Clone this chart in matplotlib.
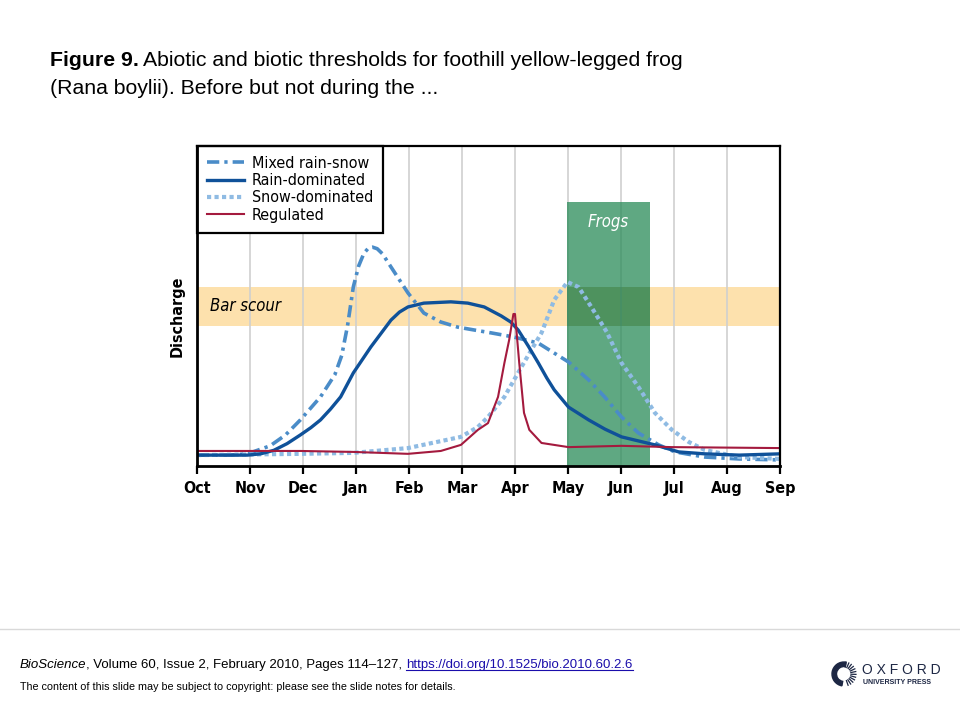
import numpy as np
import matplotlib
matplotlib.use("Agg")
import matplotlib.pyplot as plt
from matplotlib import font_manager
from matplotlib.lines import Line2D
from matplotlib.patches import Rectangle, Wedge

# months from Oct (0) to Sep (11)
months = ["Oct", "Nov", "Dec", "Jan", "Feb", "Mar", "Apr", "May", "Jun", "Jul", "Aug", "Sep"]

# hydrographs (x in months since 1 Oct, y in arbitrary discharge)
mixed_x = [0, 0.63, 0.95, 1.38, 1.67, 1.95, 2.33, 2.60, 2.73, 2.84, 2.95, 3.05, 3.15, 3.24, 3.31,
           3.40, 3.50, 3.66, 3.98, 4.28, 4.60, 4.92, 5.23, 5.55, 5.98, 6.44, 7.01, 7.39, 7.69,
           8.01, 8.33, 8.71, 9.02, 9.58, 10.23, 11.0]
mixed_y = [3.4, 3.4, 3.8, 6.3, 9.7, 14.4, 21.6, 28.5, 34.5, 43.8, 56.0, 62.5, 66.5, 68.2, 68.4,
           67.9, 66.3, 62.2, 54.1, 47.8, 45.0, 43.4, 42.5, 41.6, 40.3, 38.4, 32.5, 26.9, 21.6,
           15.3, 10.3, 6.6, 4.4, 2.8, 2.2, 1.9]

rain_x = [0, 0.95, 1.20, 1.45, 1.70, 1.95, 2.15, 2.33, 2.52, 2.71, 2.95, 3.28, 3.52, 3.66, 3.82,
          3.98, 4.28, 4.79, 5.11, 5.42, 5.74, 5.92, 6.06, 6.25, 6.44, 6.60, 6.74, 7.01, 7.39,
          7.70, 8.01, 8.64, 9.09, 9.58, 10.23, 11.0]
rain_y = [3.4, 3.4, 3.8, 4.9, 7.0, 9.7, 12.0, 14.4, 17.8, 21.6, 29.1, 37.2, 42.5, 45.6, 48.1,
          49.7, 50.9, 51.3, 50.9, 49.7, 46.9, 45.0, 42.5, 37.5, 32.2, 27.5, 23.8, 18.4, 14.4,
          11.5, 9.1, 6.6, 4.4, 3.8, 3.4, 3.8]

snow_x = [0, 1.95, 2.95, 3.98, 4.98, 5.30, 5.49, 5.80, 6.12, 6.31, 6.50, 6.74, 6.99, 7.20, 7.44,
          7.73, 8.01, 8.33, 8.64, 8.96, 9.28, 9.58, 10.23, 11.0]
snow_y = [3.4, 3.8, 4.1, 5.6, 9.1, 12.2, 15.3, 21.6, 30.9, 36.3, 41.6, 51.9, 57.5, 55.9, 49.7,
          41.9, 32.2, 24.7, 16.6, 11.3, 7.5, 5.0, 2.8, 2.2]

reg_x = [0, 1.95, 2.95, 3.98, 4.60, 4.98, 5.30, 5.49, 5.68, 5.80, 5.89, 5.97, 6.00, 6.08, 6.17,
         6.27, 6.50, 7.01, 8.01, 8.96, 11.0]
reg_y = [4.7, 4.7, 4.4, 3.8, 4.7, 6.6, 11.3, 13.4, 21.6, 32.2, 39.4, 47.5, 47.5, 32.2, 16.6,
         11.3, 7.2, 5.9, 6.3, 5.9, 5.6]

# thresholds
bar_scour = (43.8, 55.9)        # discharge band
frogs_months = (6.99, 8.54)     # breeding window
frogs_top = 82.5

narrow = dict(family="DejaVu Sans", stretch="condensed")
arial = "Liberation Sans"

fig = plt.figure(figsize=(9.6, 7.2), dpi=100)
ax = fig.add_axes([197 / 960, 1 - 466 / 720, 583 / 960, 320 / 720])
ax.set_xlim(0, 11)
ax.set_ylim(0, 100)

for m in range(1, 11):
    ax.axvline(m, color="#cfcfcf", lw=1.2, zorder=1)

ax.axhspan(bar_scour[0], bar_scour[1], color="#fde1ad", lw=0, zorder=0.5)
ax.add_patch(Rectangle((frogs_months[0], 0), frogs_months[1] - frogs_months[0], frogs_top,
                       facecolor="#2a8b58", alpha=0.75, lw=0, zorder=2))
ax.add_patch(Rectangle((frogs_months[0], bar_scour[0]), frogs_months[1] - frogs_months[0],
                       bar_scour[1] - bar_scour[0], facecolor="#1f6a35", alpha=0.25, lw=0, zorder=2.1))

ax.text(0.25, 50, "Bar scour", style="italic", fontsize=12, va="center", zorder=3, **narrow)
ax.text(sum(frogs_months) / 2, 76.3, "Frogs", style="italic", fontsize=12,
        color="white", ha="center", va="center", zorder=3, **narrow)

l_mixed, = ax.plot(mixed_x, mixed_y, color="#4a8cc8", lw=2.6, dashes=(3.4, 1.4, 0.9, 1.4),
                   zorder=4, label="Mixed rain-snow")
l_rain, = ax.plot(rain_x, rain_y, color="#0f5199", lw=2.4, zorder=5, label="Rain-dominated")
l_snow, = ax.plot(snow_x, snow_y, color="#8fbbe3", lw=3.0, dashes=(1.0, 0.8), zorder=4,
                  label="Snow-dominated")
l_reg, = ax.plot(reg_x, reg_y, color="#a41a3e", lw=1.5, zorder=6, label="Regulated")

leg = ax.legend(handles=[l_mixed, l_rain, l_snow, l_reg], loc="upper left", borderaxespad=0,
                fancybox=False, edgecolor="black", framealpha=1, handlelength=2.3,
                handletextpad=0.5, labelspacing=0.14, borderpad=0.62,
                prop=font_manager.FontProperties(size=11.5, **narrow))
leg.get_frame().set_linewidth(1.6)
leg.set_zorder(10)

for s in ax.spines.values():
    s.set_linewidth(1.6)
    s.set_zorder(11)
ax.spines["left"].set_linewidth(2.0)
ax.spines["bottom"].set_linewidth(2.0)

ax.set_xticks(range(12))
ax.set_xticklabels(months, fontweight="bold", fontsize=11.5, **narrow)
ax.set_yticks([])
ax.tick_params(axis="x", length=6, width=1.6, direction="out", pad=5)

fig.text(177 / 960, 1 - 316 / 720, "Discharge", fontweight="bold", fontsize=11.5,
         rotation=90, ha="center", va="center", **narrow)

# slide title
renderer = fig.canvas.get_renderer()
t1 = fig.text(50 / 960, 1 - 60 / 720, "Figure 9.", family=arial, fontweight="bold", fontsize=15.3,
              va="center")
w = t1.get_window_extent(renderer).width
fig.text((50 + w + 4) / 960, 1 - 60 / 720,
         "Abiotic and biotic thresholds for foothill yellow-legged frog", family=arial,
         fontsize=15.3, va="center")
fig.text(50 / 960, 1 - 88 / 720, "(Rana boylii). Before but not during the ...", family=arial,
         fontsize=15.3, va="center")

# footer
fig.add_artist(Line2D([0, 1], [1 - 629 / 720] * 2, color="#d9d9d9", lw=1))
f1 = fig.text(20 / 960, 1 - 665 / 720, "BioScience", family=arial, style="italic", fontsize=9.5,
              va="center")
x = 20 + f1.get_window_extent(renderer).width
f2 = fig.text(x / 960, 1 - 665 / 720, ", Volume 60, Issue 2, February 2010, Pages 114\u2013127, ",
              family=arial, fontsize=9.5, va="center")
x += f2.get_window_extent(renderer).width
f3 = fig.text(x / 960, 1 - 665 / 720, "https://doi.org/10.1525/bio.2010.60.2.6", family=arial,
              fontsize=9.5, color="#1a0dab", va="center")
bb = f3.get_window_extent(renderer)
fig.add_artist(Line2D([bb.x0 / 960, bb.x1 / 960], [(bb.y0 + 1) / 720] * 2, color="#1a0dab", lw=0.8))
fig.text(20 / 960, 1 - 687 / 720,
         "The content of this slide may be subject to copyright: please see the slide notes for details.",
         family=arial, fontsize=7.75, va="center")

# publisher mark
navy = "#1d2744"
lax = fig.add_axes([826 / 960, 1 - 692 / 720, 120 / 960, 36 / 720])
lax.set_xlim(826, 946)
lax.set_ylim(692, 656)
lax.axis("off")
lax.set_aspect("equal")
lax.add_patch(Wedge((844, 674), 12, 100, 280, width=4.5, color=navy, transform=lax.transData))
for a in np.linspace(-70, 80, 12):
    r = np.deg2rad(a)
    lax.plot([844 + 7 * np.cos(r), 844 + 12 * np.cos(r)], [674 - 7 * np.sin(r), 674 - 12 * np.sin(r)],
             color=navy, lw=0.9)
lax.text(862, 670, "O X F O R D", family=arial, fontsize=10, color=navy, va="center")
lax.text(863, 683, "UNIVERSITY PRESS", family=arial, fontsize=5, fontweight="bold", color=navy,
         va="center")

fig.savefig("out.png", dpi=100)
